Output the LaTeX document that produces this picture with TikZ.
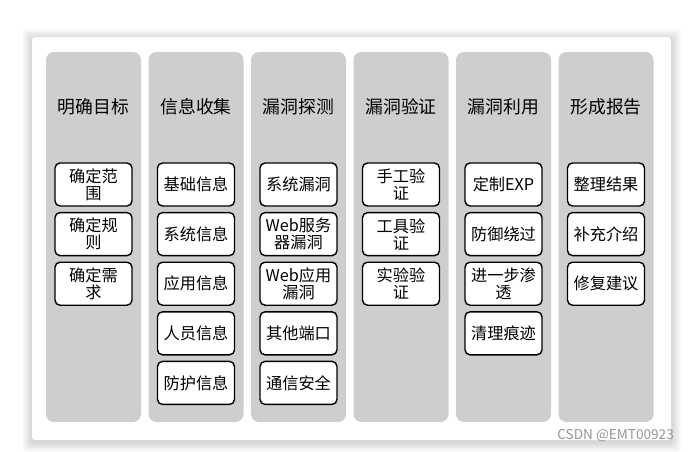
\documentclass[tikz,border=0pt]{standalone}
\usepackage{fontspec}
\setmainfont{Noto Sans CJK SC}
\definecolor{lanegray}{RGB}{206,206,209}
\definecolor{wmgray}{RGB}{150,150,150}
\begin{document}
\begin{tikzpicture}[x=1pt,y=-1pt,
    lane/.style={fill=lanegray, rounded corners=8pt, minimum width=95pt, minimum height=370pt, inner sep=0pt},
    head/.style={font=\fontsize{17.8}{20}\selectfont},
    item/.style={draw, fill=white, line width=1.4pt, rounded corners=5pt, minimum width=77pt, minimum height=43pt, inner sep=0pt, align=center, font=\fontsize{16.2}{17}\selectfont},
    wmark/.style={text=wmgray, font=\fontsize{13.6}{15}\selectfont, inner sep=0pt}]
    \useasboundingbox (0,0) rectangle (688,451);
    \fill[white] (0,0) rectangle (688,451);
    % card with a soft shadow
    \foreach \s in {1,...,10}
        \fill[black, opacity=0.014, rounded corners=4pt] (32-\s,39-\s) rectangle (671+\s,442+\s);
    \fill[white, rounded corners=3pt] (32,37) rectangle (671,440);

    % lanes
    \node[lane] (c1) at (93.5,237) {};
    \node[lane] (c2) at (196,237) {};
    \node[lane] (c3) at (298.5,237) {};
    \node[lane] (c4) at (401,237) {};
    \node[lane] (c5) at (503.5,237) {};
    \node[lane] (c6) at (606,237) {};

    % headings
    \node[head] (h1) at (93.5,107) {明确目标};
    \node[head] (h2) at (196,107) {信息收集};
    \node[head] (h3) at (298.5,107) {漏洞探测};
    \node[head] (h4) at (401,107) {漏洞验证};
    \node[head] (h5) at (503.5,107) {漏洞利用};
    \node[head] (h6) at (606,107) {形成报告};

    % items
    \node[item] (a1) at (93.5,184.5) {确定范\\围};
    \node[item] (a2) at (93.5,234.1) {确定规\\则};
    \node[item] (a3) at (93.5,283.7) {确定需\\求};

    \node[item] (b1) at (196,184.5) {基础信息};
    \node[item] (b2) at (196,234.1) {系统信息};
    \node[item] (b3) at (196,283.7) {应用信息};
    \node[item] (b4) at (196,333.3) {人员信息};
    \node[item] (b5) at (196,382.9) {防护信息};

    \node[item] (d1) at (298.5,184.5) {系统漏洞};
    \node[item] (d2) at (298.5,234.1) {Web服务\\器漏洞};
    \node[item] (d3) at (298.5,283.7) {Web应用\\漏洞};
    \node[item] (d4) at (298.5,333.3) {其他端口};
    \node[item] (d5) at (298.5,382.9) {通信安全};

    \node[item] (v1) at (401,184.5) {手工验\\证};
    \node[item] (v2) at (401,234.1) {工具验\\证};
    \node[item] (v3) at (401,283.7) {实验验\\证};

    \node[item] (u1) at (503.5,184.5) {定制EXP};
    \node[item] (u2) at (503.5,234.1) {防御绕过};
    \node[item] (u3) at (503.5,283.7) {进一步渗\\透};
    \node[item] (u4) at (503.5,333.3) {清理痕迹};

    \node[item] (r1) at (606,184.5) {整理结果};
    \node[item] (r2) at (606,234.1) {补充介绍};
    \node[item] (r3) at (606,283.7) {修复建议};

    \node[wmark, anchor=east] (wm) at (674,436) {CSDN @EMT00923};
\end{tikzpicture}
\end{document}
